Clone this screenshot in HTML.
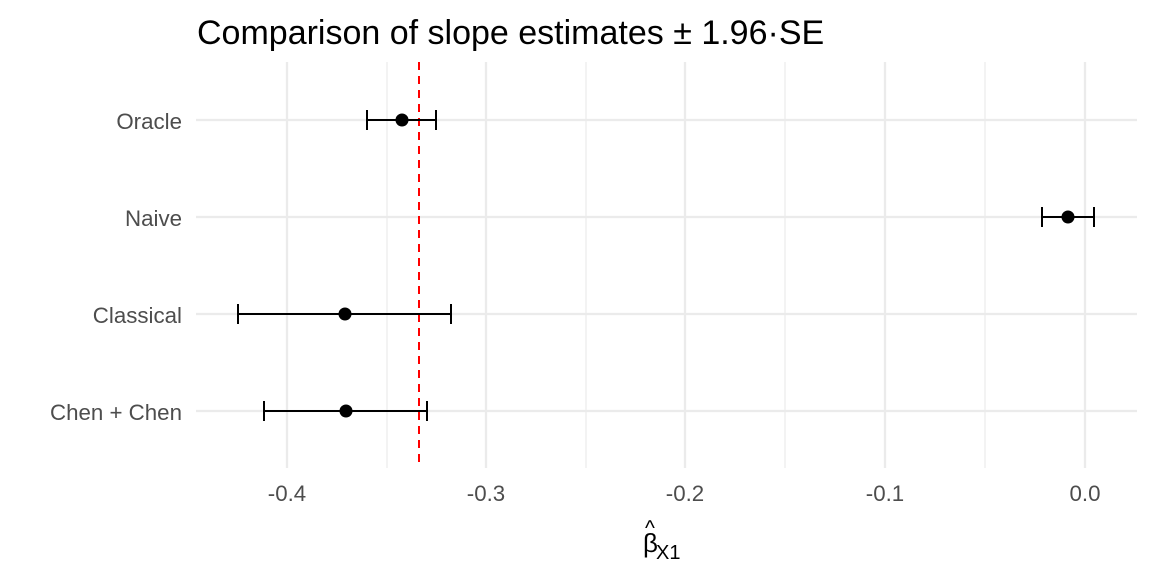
<!DOCTYPE html>
<html><head><style>body{margin:0;background:#fff}</style></head><body>
<svg width="1152" height="576" xmlns="http://www.w3.org/2000/svg" font-family="Liberation Sans, sans-serif">
<rect width="1152" height="576" fill="#fff"/>
<g stroke="#ebebeb" stroke-width="1.2">
<line x1="387" y1="62" x2="387" y2="468"/><line x1="586" y1="62" x2="586" y2="468"/><line x1="785" y1="62" x2="785" y2="468"/><line x1="985" y1="62" x2="985" y2="468"/>
</g>
<g stroke="#ebebeb" stroke-width="2.3">
<line x1="287" y1="62" x2="287" y2="468"/><line x1="486" y1="62" x2="486" y2="468"/><line x1="685" y1="62" x2="685" y2="468"/><line x1="885" y1="62" x2="885" y2="468"/><line x1="1085" y1="62" x2="1085" y2="468"/>
<line x1="196" y1="120" x2="1137" y2="120"/><line x1="196" y1="217" x2="1137" y2="217"/><line x1="196" y1="314" x2="1137" y2="314"/><line x1="196" y1="411" x2="1137" y2="411"/>
</g>
<line x1="419" y1="62" x2="419" y2="468" stroke="#ff0000" stroke-width="2" stroke-dasharray="8,6"/>
<g stroke="#000" stroke-width="2" fill="none">
<path d="M367 120H436M367 110V130M436 110V130"/>
<path d="M1042 217H1094M1042 207V227M1094 207V227"/>
<path d="M238 314H451M238 304V324M451 304V324"/>
<path d="M264 411H427M264 401V421M427 401V421"/>
</g>
<g fill="#000"><circle cx="402" cy="120" r="6.5"/><circle cx="1068" cy="217" r="6.5"/><circle cx="345" cy="314" r="6.5"/><circle cx="346" cy="411" r="6.5"/></g>
<g fill="#4d4d4d" font-size="22.3" text-anchor="end">
<text x="182" y="129">Oracle</text><text x="182" y="226">Naive</text><text x="182" y="323">Classical</text><text x="182" y="420">Chen + Chen</text>
</g>
<g fill="#4d4d4d" font-size="22.3" text-anchor="middle">
<text x="287" y="501">-0.4</text><text x="486" y="501">-0.3</text><text x="685" y="501">-0.2</text><text x="885" y="501">-0.1</text><text x="1085" y="501">0.0</text>
</g>
<text x="197" y="44" font-size="34" fill="#000">Comparison of slope estimates ± 1.96·SE</text>
<text x="643" y="552" font-size="26" fill="#000">β</text>
<text x="645" y="535" font-size="21" fill="#000">^</text>
<text x="656" y="559" font-size="20" fill="#000">X1</text>
</svg>
</body></html>
